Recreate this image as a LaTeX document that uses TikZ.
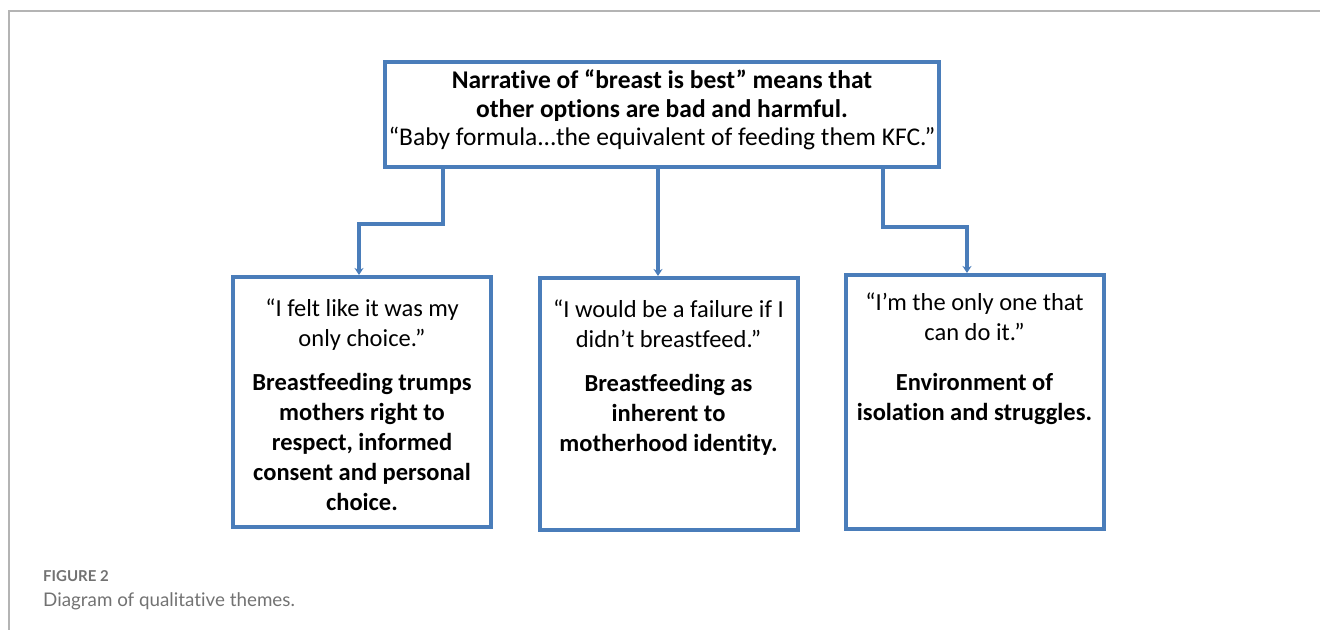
\documentclass[tikz,border=0pt]{standalone}
\usepackage{fontspec}
\setmainfont{Carlito}[Ligatures=CommonOff]
\newfontfamily\capfont{Lato}[Ligatures=CommonOff]
\usetikzlibrary{arrows.meta}

\definecolor{boxblue}{HTML}{4A7DBA}
\definecolor{framegray}{HTML}{B4B4B4}
\definecolor{capgray}{HTML}{727272}

\tikzset{
  theme/.style={draw=boxblue, line width=4pt, fill=white, inner xsep=0pt, align=center},
  link/.style={boxblue, line width=3.2pt, -{Stealth[length=7pt,width=9pt]}},
}

% text of a theme box: quote, gap, bold theme
\newcommand{\themetext}[4]{\begin{minipage}[c][#1][t]{258pt}\centering
\fontsize{24.5}{30}\selectfont #2\par\vspace{#3}\textbf{#4}\end{minipage}}

\begin{document}
\begin{tikzpicture}[x=1pt, y=-1pt]
\useasboundingbox (0,0) rectangle (1320,630);
\draw[framegray, line width=1.5pt] (1320,11) -- (9,11) -- (9,630);

% top box
\node[theme, inner ysep=8pt] (narr) at (662,114.5) {\begin{minipage}[c][89pt][t]{554pt}\centering
\fontsize{25.5}{28.5}\selectfont\textbf{Narrative of “breast is best” means that\\ other options are bad and harmful.}\\
“Baby formula...the equivalent of feeding them KFC.”\end{minipage}};

% theme boxes
\node[theme, inner ysep=22pt] (choice) at (362,402) {\themetext{206pt}{“I felt like it was my\\ only choice.”}{14pt}{Breastfeeding trumps\\ mothers right to\\ respect, informed\\ consent and personal\\ choice.}};
\node[theme, inner ysep=22pt] (failure) at (668.5,404) {\themetext{208pt}{“I would be a failure if I\\ didn’t breastfeed.”}{14pt}{Breastfeeding as\\ inherent to\\ motherhood identity.}};
\node[theme, inner ysep=18pt] (alone) at (974.5,402) {\themetext{218pt}{“I’m the only one that\\ can do it.”}{20pt}{Environment of\\ isolation and struggles.}};

% connectors
\draw[link] ([xshift=-219pt]narr.south) -- ++(0,55) -| ([xshift=-3pt]choice.north);
\draw[link] ([xshift=-4pt]narr.south) -- ([xshift=-10.5pt]failure.north);
\draw[link] ([xshift=221pt]narr.south) -- ++(0,58) -| ([xshift=-7.5pt]alone.north);

% caption
\node[anchor=base west, inner sep=0pt, text=capgray, font=\capfont\bfseries\fontsize{15}{18}\selectfont] (fig) at (43,581) {FIGURE 2};
\node[anchor=base west, inner sep=0pt, text=capgray, font=\capfont\fontsize{18.8}{22}\selectfont] (cap) at (43,606) {Diagram of qualitative themes.};
\end{tikzpicture}
\end{document}
